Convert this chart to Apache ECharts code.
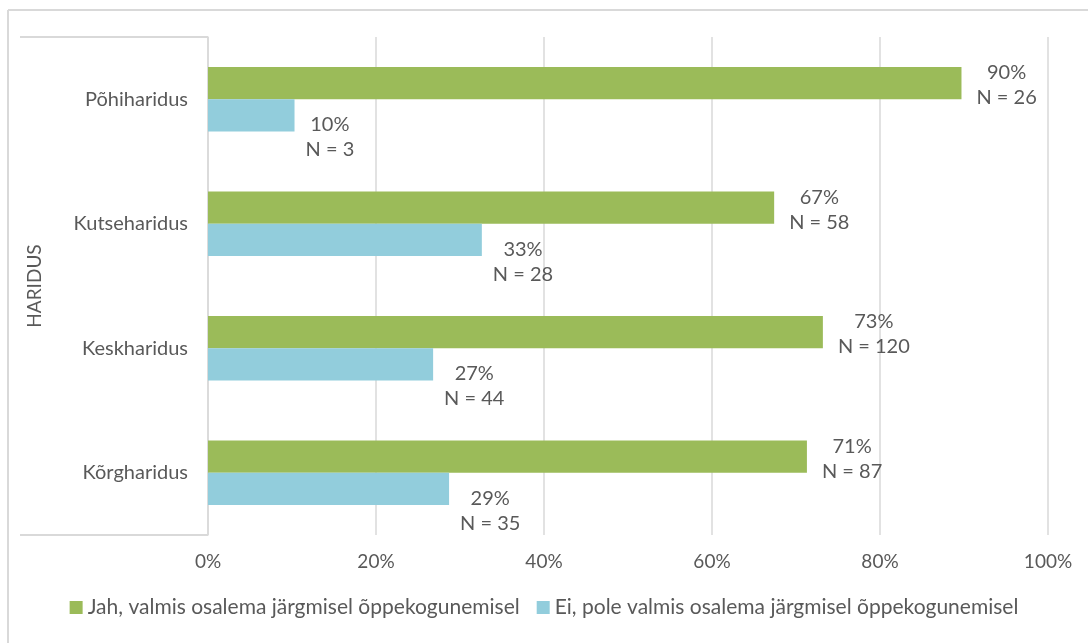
<!DOCTYPE html>
<html>
<head>
<meta charset="utf-8">
<script src="https://cdn.jsdelivr.net/npm/echarts@6/dist/echarts.min.js"></script>
<style>
  html, body { margin: 0; padding: 0; background: #fff; }
  #chart { width: 1088px; height: 643px; }
</style>
</head>
<body>
<div id="chart"></div>
<script>
// andmed
var categories = ['Põhiharidus', 'Kutseharidus', 'Keskharidus', 'Kõrgharidus'];
var jahValues = [89.7, 67.4, 73.2, 71.3];
var eiValues = [10.3, 32.6, 26.8, 28.7];
var jahPct = ['90%', '67%', '73%', '71%'];
var jahN = [26, 58, 120, 87];
var eiPct = ['10%', '33%', '27%', '29%'];
var eiN = [3, 28, 44, 35];
var xTicks = [0, 20, 40, 60, 80, 100];

var FONT = 'Lato';
var FS = 20;
var TXT = '#595959';
var LINE = '#d9d9d9';

// sildi laiuse mõõtmine, et read oleksid keskel
var ctx = document.createElement('canvas').getContext('2d');
ctx.font = FS + 'px ' + FONT;
function labelData(values, pct, n, dy) {
    return values.map(function (v, i) {
        var w = Math.max(ctx.measureText(pct[i]).width, ctx.measureText('N = ' + n[i]).width);
        return {
            value: v,
            label: { offset: [w / 2, dy] }
        };
    });
}

var myChart = echarts.init(document.getElementById('chart'));
var option = {
    animation: false,
    textStyle: { fontFamily: FONT, color: TXT },
    grid: { left: 208, right: 40, top: 37, bottom: 108 },
    legend: {
        bottom: 20,
        left: 'center',
        itemWidth: 13,
        itemHeight: 13,
        itemGap: 17,
        icon: 'rect',
        textStyle: { fontFamily: FONT, fontSize: 21, color: TXT },
        data: ['Jah, valmis osalema järgmisel õppekogunemisel', 'Ei, pole valmis osalema järgmisel õppekogunemisel']
    },
    xAxis: {
        type: 'value',
        min: 0,
        max: 100,
        interval: 20,
        axisLine: { show: false },
        axisTick: { show: false },
        splitLine: { lineStyle: { color: LINE, width: 1.5 } },
        axisLabel: {
            margin: 17,
            fontSize: FS - 1,
            color: TXT,
            formatter: function (v) { return xTicks.indexOf(v) >= 0 ? v + '%' : ''; }
        }
    },
    yAxis: {
        type: 'category',
        inverse: true,
        data: categories,
        name: 'HARIDUS',
        nameLocation: 'middle',
        nameGap: 164,
        nameRotate: 90,
        nameTextStyle: { fontSize: FS - 1, color: TXT },
        axisLine: { lineStyle: { color: LINE, width: 1.5 } },
        axisTick: { show: false },
        axisLabel: { margin: 20, fontSize: FS, color: TXT }
    },
    series: [
        {
            name: 'Jah, valmis osalema järgmisel õppekogunemisel',
            type: 'bar',
            barGap: '0%',
            barCategoryGap: '48%',
            itemStyle: { color: '#9bbb59' },
            label: {
                show: true,
                position: 'right',
                distance: 15,
                align: 'center',
                fontSize: FS,
                lineHeight: 25,
                color: TXT,
                formatter: function (p) { return jahPct[p.dataIndex] + '\nN = ' + jahN[p.dataIndex]; }
            },
            data: labelData(jahValues, jahPct, jahN, 2)
        },
        {
            name: 'Ei, pole valmis osalema järgmisel õppekogunemisel',
            type: 'bar',
            itemStyle: { color: '#92cddc' },
            label: {
                show: true,
                position: 'right',
                distance: 11,
                align: 'center',
                fontSize: FS,
                lineHeight: 25,
                color: TXT,
                formatter: function (p) { return eiPct[p.dataIndex] + '\nN = ' + eiN[p.dataIndex]; }
            },
            data: labelData(eiValues, eiPct, eiN, 22)
        }
    ],
    graphic: [
        { type: 'line', shape: { x1: 8, y1: 10, x2: 1088, y2: 10 }, style: { stroke: LINE, lineWidth: 2 } },
        { type: 'line', shape: { x1: 8, y1: 10, x2: 8, y2: 643 }, style: { stroke: LINE, lineWidth: 2 } },
        { type: 'line', shape: { x1: 20, y1: 37, x2: 208, y2: 37 }, style: { stroke: LINE, lineWidth: 2 } },
        { type: 'line', shape: { x1: 20, y1: 535, x2: 208, y2: 535 }, style: { stroke: LINE, lineWidth: 2 } }
    ]
};
myChart.setOption(option);
</script>
</body>
</html>
